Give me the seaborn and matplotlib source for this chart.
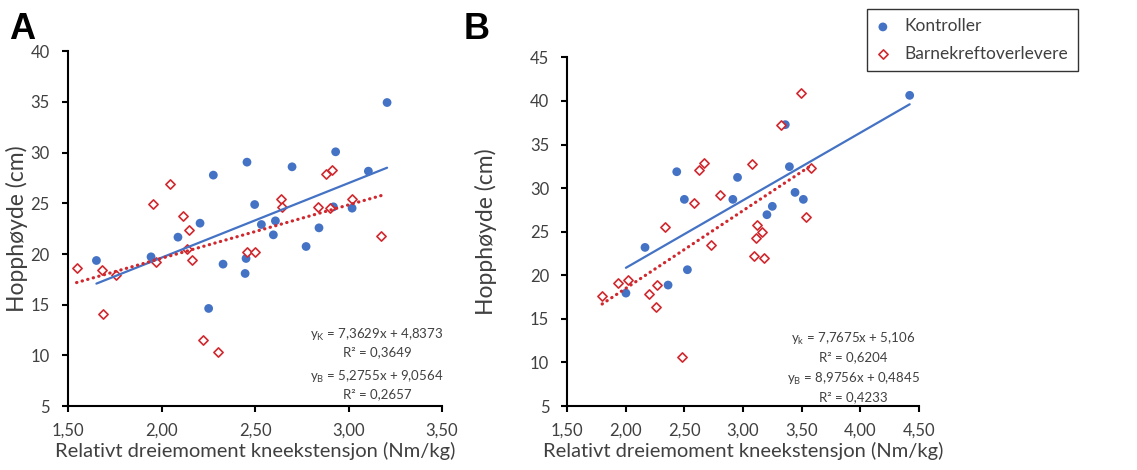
import pandas as pd
import matplotlib
matplotlib.use("Agg")
import matplotlib.pyplot as plt
import seaborn as sns

# ---- data ----
# Panel A
a_kontroll_x = [1.652, 1.944, 2.088, 2.206, 2.277, 2.252, 2.329, 2.457, 2.452, 2.447, 2.498,
                2.534, 2.598, 2.609, 2.698, 2.773, 2.842, 2.919, 2.931, 3.019, 3.106, 3.206]
a_kontroll_y = [19.36, 19.72, 21.66, 23.04, 27.78, 14.63, 19.0, 29.06, 19.56, 18.08, 24.88,
                22.91, 21.89, 23.27, 28.6, 20.74, 22.58, 24.65, 30.08, 24.52, 28.17, 34.94]
a_barn_x = [1.546, 1.682, 1.686, 1.759, 1.952, 1.968, 2.047, 2.115, 2.134, 2.148, 2.163, 2.223,
            2.300, 2.457, 2.498, 2.637, 2.646, 2.837, 2.878, 2.912, 2.900, 3.017, 3.176]
a_barn_y = [18.57, 18.38, 14.1, 17.9, 24.9, 19.17, 26.86, 23.74, 20.5, 22.35, 19.39, 11.54,
            10.36, 20.23, 20.16, 25.41, 24.59, 24.59, 27.93, 28.3, 24.56, 25.38, 21.79]

# Panel B
b_kontroll_x = [2.0, 2.163, 2.36, 2.434, 2.499, 2.525, 2.913, 2.953, 3.204, 3.25, 3.361,
                3.396, 3.444, 3.515, 4.423]
b_kontroll_y = [17.96, 23.2, 18.88, 31.88, 28.71, 20.64, 28.71, 31.23, 26.95, 27.91, 37.28,
                32.46, 29.51, 28.71, 40.64]
b_barn_x = [1.797, 1.934, 2.017, 2.197, 2.254, 2.263, 2.334, 2.479, 2.579, 2.625, 2.671, 2.728,
            2.805, 3.076, 3.096, 3.113, 3.116, 3.162, 3.182, 3.321, 3.495, 3.535, 3.578]
b_barn_y = [17.58, 19.15, 19.42, 17.81, 16.4, 18.88, 25.5, 10.58, 28.33, 32.07, 32.88, 23.47,
            29.24, 32.72, 22.25, 24.27, 25.73, 24.92, 21.98, 37.28, 40.91, 26.68, 32.3]

groups = ["Kontroller", "Barnekreftoverlevere"]

a_ticks_x = [1.5, 2.0, 2.5, 3.0, 3.5]
a_labels_x = ["1,50", "2,00", "2,50", "3,00", "3,50"]
a_ticks_y = [5, 10, 15, 20, 25, 30, 35, 40]
b_ticks_x = [1.5, 2.0, 2.5, 3.0, 3.5, 4.0, 4.5]
b_labels_x = ["1,50", "2,00", "2,50", "3,00", "3,50", "4,00", "4,50"]
b_ticks_y = [5, 10, 15, 20, 25, 30, 35, 40, 45]

a_eq = [r"y$_{\mathregular{K}}$ = 7,3629x + 4,8373", "R² = 0,3649",
        r"y$_{\mathregular{B}}$ = 5,2755x + 9,0564", "R² = 0,2657"]
b_eq = [r"y$_{\mathregular{k}}$ = 7,7675x + 5,106", "R² = 0,6204",
        r"y$_{\mathregular{B}}$ = 8,9756x + 0,4845", "R² = 0,4233"]

dfA = pd.DataFrame({
    "x": a_kontroll_x + a_barn_x,
    "y": a_kontroll_y + a_barn_y,
    "gruppe": [groups[0]] * len(a_kontroll_x) + [groups[1]] * len(a_barn_x),
})
dfB = pd.DataFrame({
    "x": b_kontroll_x + b_barn_x,
    "y": b_kontroll_y + b_barn_y,
    "gruppe": [groups[0]] * len(b_kontroll_x) + [groups[1]] * len(b_barn_x),
})

# ---- style ----
sns.set_style("white")
plt.rcParams["font.family"] = ["Lato", "DejaVu Sans"]
plt.rcParams["mathtext.fontset"] = "custom"
plt.rcParams["mathtext.rm"] = "Lato"

blue = "#4472C4"
red = "#D0282E"
txt = "#404040"

fig = plt.figure(figsize=(11.37, 4.70), dpi=100)
axA = fig.add_axes([0.0598, 0.136, 0.329, 0.755])
axB = fig.add_axes([0.499, 0.136, 0.309, 0.742])


def draw_panel(ax, df, xt, xl, yt, eq, eq_x, eq_y, ylabpad):
    kon = df[df["gruppe"] == groups[0]]
    bar = df[df["gruppe"] == groups[1]]
    sns.scatterplot(data=kon, x="x", y="y", ax=ax, color=blue, marker="o", s=40,
                    edgecolor="none", label=groups[0], legend=False, zorder=3)
    sns.scatterplot(data=bar, x="x", y="y", ax=ax, marker="D", s=22,
                    facecolor="white", edgecolor=red, linewidth=1.2,
                    label=groups[1], legend=False, zorder=3)
    sns.regplot(data=kon, x="x", y="y", ax=ax, scatter=False, ci=None, truncate=True,
                color=blue, line_kws={"linewidth": 1.6, "zorder": 4})
    sns.regplot(data=bar, x="x", y="y", ax=ax, scatter=False, ci=None, truncate=True,
                color=red, line_kws={"linewidth": 2.3, "linestyle": (0, (0.1, 1.7)),
                                     "dash_capstyle": "round", "zorder": 4})

    ax.set_xlim(xt[0], xt[-1])
    ax.set_ylim(yt[0], yt[-1])
    ax.set_xticks(xt)
    ax.set_xticklabels(xl)
    ax.set_yticks(yt)
    ax.set_yticklabels([str(v) for v in yt])
    for s in ["top", "right"]:
        ax.spines[s].set_visible(False)
    for s in ["left", "bottom"]:
        ax.spines[s].set_color("black")
        ax.spines[s].set_linewidth(1.5)
    ax.tick_params(axis="both", direction="out", length=4, width=1.5, color="black",
                   labelsize=12, labelcolor=txt, left=True, bottom=True)
    ax.tick_params(axis="y", pad=9)
    ax.tick_params(axis="x", pad=8)
    ax.set_xlabel("Relativt dreiemoment kneekstensjon (Nm/kg)", fontsize=14.5, color=txt,
                  labelpad=2)
    ax.set_ylabel("Hopphøyde (cm)", fontsize=16.5, color=txt, labelpad=ylabpad)

    for line, yy in zip(eq, eq_y):
        ax.text(eq_x, yy, line, transform=ax.transAxes, ha="center", va="center",
                fontsize=9.5, color=txt)


draw_panel(axA, dfA, a_ticks_x, a_labels_x, a_ticks_y, a_eq, 0.826,
           [0.200, 0.152, 0.082, 0.034], 2)
draw_panel(axB, dfB, b_ticks_x, b_labels_x, b_ticks_y, b_eq, 0.813,
           [0.192, 0.141, 0.077, 0.026], 24)

fig.text(0.008, 0.975, "A", fontsize=26, fontweight="bold", va="top",
         family="Liberation Sans", color="black")
fig.text(0.408, 0.975, "B", fontsize=26, fontweight="bold", va="top",
         family="Liberation Sans", color="black")

handles, labels = axB.get_legend_handles_labels()
leg = fig.legend(handles[:2], labels[:2], loc="upper right", bbox_to_anchor=(0.948, 0.981),
                 borderaxespad=0, frameon=True, fancybox=False, fontsize=12.5,
                 handletextpad=0.9, borderpad=0.55, labelspacing=0.65, handlelength=0.7,
                 labelcolor=txt)
leg.get_frame().set_edgecolor("black")
leg.get_frame().set_linewidth(1.0)

fig.savefig("out.png", dpi=100)
